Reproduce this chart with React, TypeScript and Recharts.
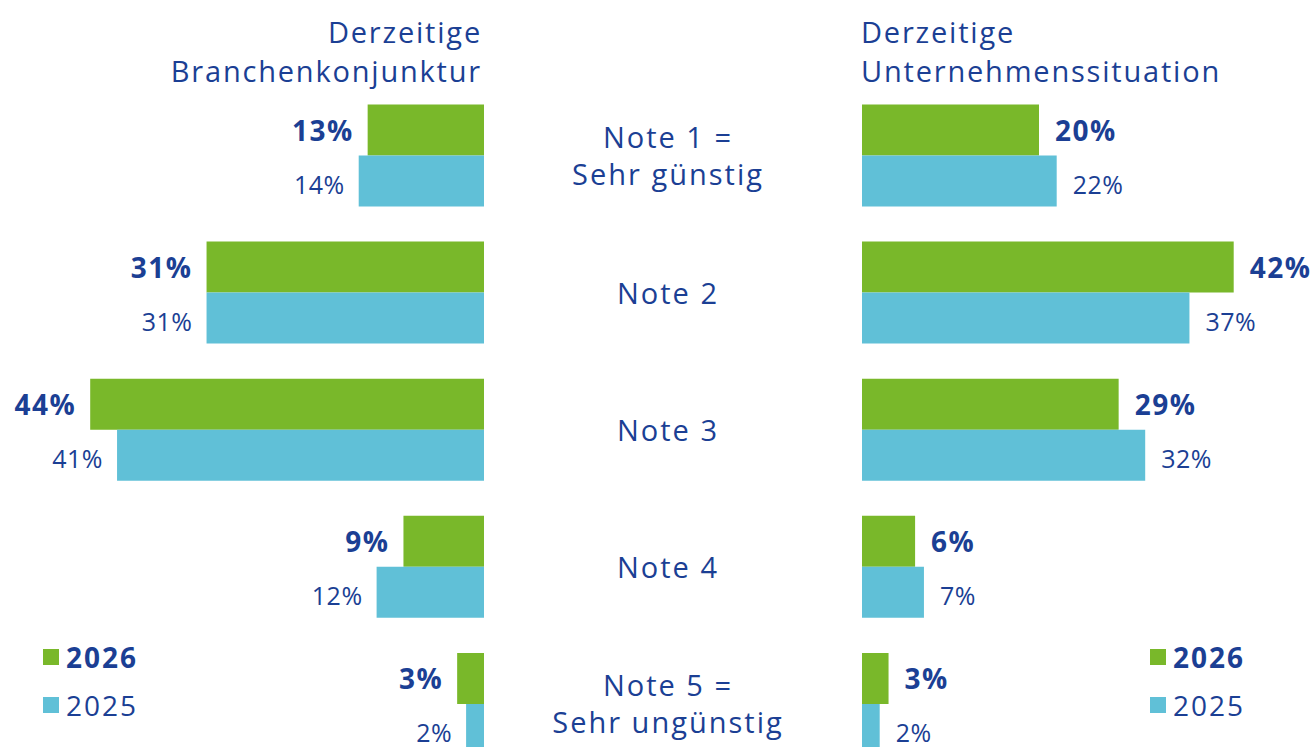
import React from 'react';
import { BarChart, Bar, XAxis, YAxis, LabelList } from 'recharts';

// categories and values (percent)
const categories = ['Note 1 =\nSehr günstig', 'Note 2', 'Note 3', 'Note 4', 'Note 5 =\nSehr ungünstig'];
const branche2026 = [13, 31, 44, 9, 3];
const branche2025 = [14, 31, 41, 12, 2];
const unternehmen2026 = [20, 42, 29, 6, 3];
const unternehmen2025 = [22, 37, 32, 7, 2];
const seriesNames = ['2026', '2025'];

const GREEN = '#79b82a';
const BLUE = '#60c0d7';
const TEXT = '#1b3f94';
const FONT = '"Open Sans", sans-serif';
const CENTER_X = 668;

const leftData = categories.map((name, i) => ({ name, v2026: branche2026[i], v2025: branche2025[i] }));
const rightData = categories.map((name, i) => ({ name, v2026: unternehmen2026[i], v2025: unternehmen2025[i] }));

const CenterTick = (props: any) => {
  const { y, payload } = props;
  const lines = String(payload.value).split('\n');
  const lh = 37;
  const start = y - ((lines.length - 1) * lh) / 2;
  return (
    <text x={CENTER_X} y={start} textAnchor="middle" fill={TEXT} fontFamily={FONT} fontSize={29} letterSpacing={2}>
      {lines.map((l, i) => (
        <tspan key={i} x={CENTER_X} y={start + i * lh} dominantBaseline="central">{l}</tspan>
      ))}
    </text>
  );
};

const makeLabel = (side: 'left' | 'right', bold: boolean) => (props: any) => {
  const { x, y, width, height, value } = props;
  const left = Math.min(x, x + width);
  const right = Math.max(x, x + width);
  const tx = side === 'left' ? left - 14 : right + 16;
  return (
    <text x={tx} y={y + height / 2 + (bold ? 0 : 3)} textAnchor={side === 'left' ? 'end' : 'start'}
      dominantBaseline="central" fill={TEXT} fontFamily={FONT} fontSize={bold ? 28 : 25}
      fontWeight={bold ? 700 : 400} letterSpacing={bold ? 1.5 : 0.5}>
      {`${value}%`}
    </text>
  );
};

const LegendBox = ({ left, top }: { left: number; top: number }) => (
  <div style={{ position: 'absolute', left, top, fontFamily: FONT, color: TEXT, fontSize: 28, letterSpacing: 2 }}>
    {seriesNames.map((s, i) => (
      <div key={s} style={{ display: 'flex', alignItems: 'center', height: 48 }}>
        <span style={{ width: 16, height: 16, background: i === 0 ? GREEN : BLUE, marginRight: 7, display: 'inline-block' }} />
        <span style={{ fontWeight: i === 0 ? 700 : 400 }}>{s}</span>
      </div>
    ))}
  </div>
);

const Title = ({ lines, left, align }: { lines: string[]; left: number; align: 'left' | 'right' }) => (
  <div style={{ position: 'absolute', top: 12, left, width: 420, textAlign: align, fontFamily: FONT, color: TEXT, fontSize: 29, lineHeight: '39px', letterSpacing: 1.8 }}>
    {lines.map((l) => <div key={l}>{l}</div>)}
  </div>
);

export default function App() {
  return (
    <div style={{ position: 'absolute', left: 0, top: 0, width: 1311, height: 747, overflow: 'hidden', background: '#fff' }}>
      <Title lines={['Derzeitige', 'Branchenkonjunktur']} left={62} align="right" />
      <Title lines={['Derzeitige', 'Unternehmenssituation']} left={861} align="left" />
      <div style={{ position: 'absolute', left: 0, top: 0 }}>
        <BarChart width={862} height={772} data={leftData} layout="vertical" barGap={0}
          margin={{ top: 86.5, right: 0, bottom: 0, left: 36.5 }}>
          <XAxis type="number" domain={[0, 50]} reversed hide />
          <YAxis type="category" dataKey="name" orientation="right" width={378} axisLine={false} tickLine={false} tick={<CenterTick />} />
          <Bar dataKey="v2026" fill={GREEN} barSize={51} isAnimationActive={false}>
            <LabelList dataKey="v2026" content={makeLabel('left', true)} />
          </Bar>
          <Bar dataKey="v2025" fill={BLUE} barSize={51} isAnimationActive={false}>
            <LabelList dataKey="v2025" content={makeLabel('left', false)} />
          </Bar>
        </BarChart>
      </div>
      <div style={{ position: 'absolute', left: 862, top: 0 }}>
        <BarChart width={449} height={772} data={rightData} layout="vertical" barGap={0}
          margin={{ top: 86.5, right: 6.5, bottom: 0, left: 0 }}>
          <XAxis type="number" domain={[0, 50]} hide />
          <YAxis type="category" dataKey="name" hide />
          <Bar dataKey="v2026" fill={GREEN} barSize={51} isAnimationActive={false}>
            <LabelList dataKey="v2026" content={makeLabel('right', true)} />
          </Bar>
          <Bar dataKey="v2025" fill={BLUE} barSize={51} isAnimationActive={false}>
            <LabelList dataKey="v2025" content={makeLabel('right', false)} />
          </Bar>
        </BarChart>
      </div>
      <LegendBox left={43} top={633} />
      <LegendBox left={1150} top={633} />
    </div>
  );
}
